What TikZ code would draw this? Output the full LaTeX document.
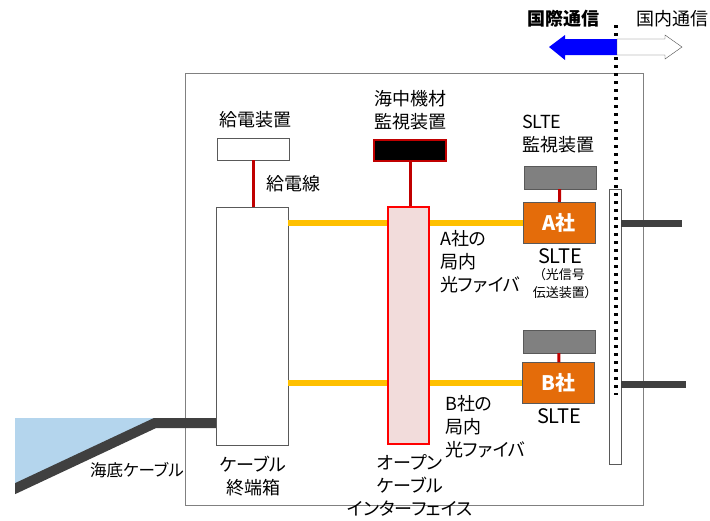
\documentclass[tikz,border=0pt]{standalone}
\usepackage{fontspec}
\setmainfont{Noto Sans CJK JP}[RawFeature=+palt]
\definecolor{wire}{HTML}{C00000}
\definecolor{fiber}{HTML}{FFC000}
\definecolor{slte}{HTML}{E46C0A}
\definecolor{cablegray}{HTML}{404040}
\definecolor{sea}{HTML}{B4D5ED}
\definecolor{pinkbox}{HTML}{F2DCDB}
\tikzset{
  lbl/.style={align=center, inner sep=0, font=\fontsize{18}{23}\selectfont},
  small/.style={align=center, inner sep=0, font=\fontsize{13}{18}\selectfont},
  whitebox/.style={draw=gray!70!black, fill=white, inner sep=0},
  monbox/.style={draw=gray!70!black, fill=gray, inner sep=0, minimum width=72pt, minimum height=23pt},
  sltebox/.style={draw=gray!70!black, fill=slte, inner sep=0, minimum width=72pt, minimum height=41pt, text=white, font=\fontsize{20}{24}\selectfont\bfseries},
  feed/.style={wire, line width=3pt},
  lan/.style={fiber, line width=6pt},
  cable/.style={cablegray, line width=7pt},
}
\begin{document}
\begin{tikzpicture}[x=1pt, y=-1pt]
\useasboundingbox (0,0) rectangle (710,520);
% station building
\draw[gray, line width=1pt] (185,73) rectangle (643,505);
% sea and submarine cable
\fill[sea] (15,418) -- (155,418) -- (15,484) -- cycle;
% boundary between international and domestic
\draw[line width=3.3pt, dash pattern=on 3.3pt off 4.7pt] (616,25) -- (616,395);
\fill[blue] (617,39) -- (565,39) -- (565,35) -- (549,47) -- (565,60) -- (565,55) -- (617,55) -- cycle;
\draw[black!70, fill=white] (617,39) -- (665,39) -- (665,35) -- (682,47) -- (665,59) -- (665,55) -- (617,55) -- cycle;
\node[lbl, font=\fontsize{18}{23}\selectfont\bfseries] (intl) at (563,19){国際通信};
\node[lbl] (dom) at (672,19){国内通信};
% equipment
\node[whitebox, minimum width=72pt, minimum height=22pt] (feeder) at (253,149){};
\node[whitebox, minimum width=72pt, minimum height=238pt] (term) at (252,326){};
\node[draw=wire, line width=2pt, fill=black, minimum width=72pt, minimum height=21pt, inner sep=0] (uwmon) at (410,150.5){};
\node[draw=red, line width=2pt, fill=pinkbox, minimum width=41pt, minimum height=237pt, inner sep=0] (ocif) at (408.5,325.5){};
\node[monbox] (monA) at (560,177.5){};
\node[sltebox] (slteA) at (559,222.5){A社};
\node[monbox] (monB) at (559,341.5){};
\node[sltebox] (slteB) at (558.5,383){B社};
\node[whitebox, minimum width=12pt, minimum height=275pt] (rack) at (615,326.5){};
\draw[line width=3.3pt, dash pattern=on 3.3pt off 4.7pt] (616,193) -- (616,395);
% connections
\draw[feed](feeder) -- (feeder |- term.north);
\draw[feed](uwmon) -- (uwmon |- ocif.north);
\draw[feed](monA) -- (slteA);
\draw[feed](monB) -- (slteB);
\draw[lan](term.east |- slteA) -- (ocif.west |- slteA);
\draw[lan](ocif.east |- slteA) -- (slteA.west);
\draw[lan](term.east |- slteB) -- (ocif.west |- slteB);
\draw[lan](ocif.east |- slteB) -- (slteB.west);
\coordinate (outA) at (682,223);
\coordinate (outB) at (686,384);
\draw[cable](rack.east |- outA) -- (outA);
\draw[cable](rack.east |- outB) -- (outB);
\coordinate (shore) at (155,423);
\coordinate (seabed) at (10,491);
\begin{scope}
\clip (15,400) rectangle (300,520);
\draw[cablegray, line width=10pt](term.west |- shore) -- (shore) -- (seabed);
\end{scope}
% labels
\node[lbl] (feederlbl) at (255,120){給電装置};
\node[lbl] (wirelbl) at (293,184){給電線};
\node[lbl] (uwmonlbl) at (410,110){海中機材\\監視装置};
\node[lbl, align=left] (monAlbl) at (558,134){SLTE\\監視装置};
\node[lbl, font=\fontsize{20}{23}\selectfont] (slteAlbl) at (560,256){SLTE};
\node[small] (slteAnote) at (562,284){（光信号\\伝送装置）};
\node[lbl, font=\fontsize{20}{23}\selectfont] (slteBlbl) at (559,416){SLTE};
\node[lbl, align=left, anchor=west] (fiberA) at (440,262){A社の\\局内\\光ファイバ};
\node[lbl, align=left, anchor=west] (fiberB) at (445,427){B社の\\局内\\光ファイバ};
\node[lbl] (ociflbl) at (410,485){オープン\\ケーブル\\インターフェイス};
\node[lbl] (termlbl) at (253,476){ケーブル\\終端箱};
\node[lbl, font=\fontsize{16.5}{20}\selectfont] (cablelbl) at (137,470){海底ケーブル};
\end{tikzpicture}
\end{document}
